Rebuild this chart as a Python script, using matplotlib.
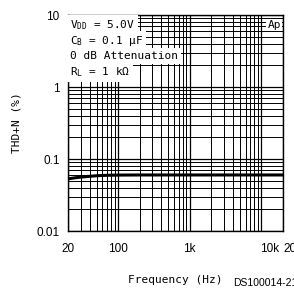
import numpy as np
import matplotlib
matplotlib.use("Agg")
import matplotlib.pyplot as plt
from matplotlib.transforms import ScaledTranslation

# THD+N vs frequency
freq = [20, 25, 30, 40, 50, 70, 100, 200, 500, 1000, 2000, 5000, 10000, 20000]
thdn = [0.053, 0.0548, 0.056, 0.0575, 0.0585, 0.0594, 0.0598, 0.06, 0.06, 0.06, 0.06, 0.06, 0.06, 0.06]

xticks = [20, 100, 1000, 10000, 20000]
xticklabels = ["20", "100", "1k", "10k", "20k"]
yticks = [0.01, 0.1, 1, 10]
yticklabels = ["0.01", "0.1", "1", "10"]

conditions = [r"V$_{\mathrm{DD}}$ = 5.0V",
              r"C$_{\mathrm{B}}$ = 0.1 $\mu$F",
              "0 dB Attenuation",
              r"R$_{\mathrm{L}}$ = 1 k$\Omega$"]

plt.rcParams['mathtext.fontset'] = 'custom'
plt.rcParams['mathtext.rm'] = 'DejaVu Sans Mono'
plt.rcParams['mathtext.it'] = 'DejaVu Sans Mono'

W, H = 294, 293
fig = plt.figure(figsize=(W / 100, H / 100), dpi=100)
ax = fig.add_axes([68 / W, (H - 231) / H, 215 / W, 216 / H])

ax.set_xscale('log')
ax.set_yscale('log')
ax.set_xlim(20, 20000)
ax.set_ylim(0.01, 10)

ax.grid(True, which='major', color='black', lw=0.9)
ax.grid(True, which='minor', color='black', lw=0.7)
ax.set_axisbelow(True)

ax.plot(freq, thdn, color='black', lw=2.2, zorder=3)

ax.set_xticks(xticks)
ax.set_xticklabels(xticklabels, fontsize=8.5, family='Liberation Sans')
ax.set_yticks(yticks)
ax.set_yticklabels(yticklabels, fontsize=8.5, family='Liberation Sans')
ax.tick_params(which='both', length=0)
ax.tick_params(axis='x', pad=9)
ax.tick_params(axis='y', pad=6)
for s in ax.spines.values():
    s.set_color('black')
    s.set_linewidth(1.0)

# the last two frequency labels sit right of their grid lines in the original
labs = ax.get_xticklabels()
for lab, dx in zip(labs[3:], [8, 10]):
    lab.set_transform(lab.get_transform() + ScaledTranslation(dx / 100, 0, fig.dpi_scale_trans))

ax.set_xlabel("Frequency (Hz)", family='DejaVu Sans Mono', fontsize=8, labelpad=14)
ax.set_ylabel("THD+N (%)", family='DejaVu Sans Mono', fontsize=8, labelpad=11)

# condition labels with white background
ys = [25, 41, 56, 72]
for txt, yp in zip(conditions, ys):
    ax.text(2 / 215, 1 - (yp - 15) / 216, txt, transform=ax.transAxes,
            family='DejaVu Sans Mono', fontsize=8, va='center', ha='left',
            bbox=dict(facecolor='white', edgecolor='none', pad=2), zorder=4)

ax.text(1 - 2 / 215, 1 - 10 / 216, "Ap", transform=ax.transAxes,
        family='DejaVu Sans Mono', fontsize=8, va='center', ha='right',
        bbox=dict(facecolor='white', edgecolor='none', pad=1), zorder=4)

fig.text(233 / W, 1 - 283 / H, "DS100014-21", family='Liberation Sans',
         fontsize=7.5, va='center', ha='left')

fig.savefig("out.png", dpi=100, facecolor='white')
